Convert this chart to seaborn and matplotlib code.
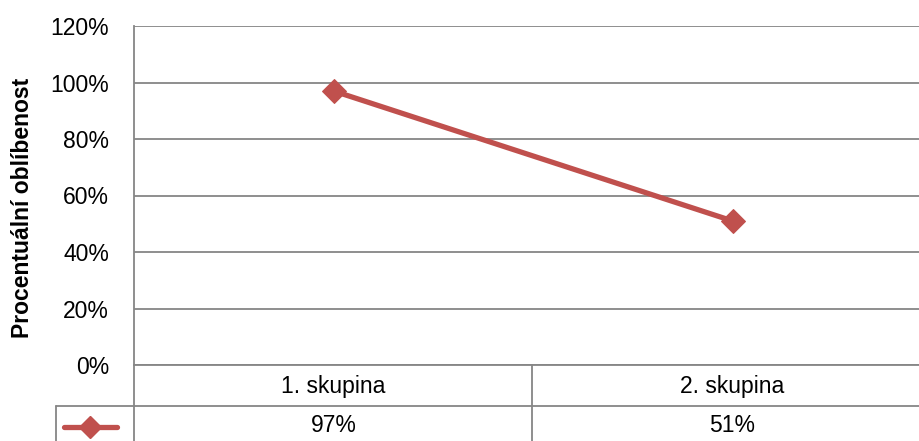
import matplotlib
matplotlib.use("Agg")
import matplotlib.pyplot as plt
import seaborn as sns
import pandas as pd
from matplotlib.lines import Line2D
from matplotlib.transforms import blended_transform_factory

categories = ["1. skupina", "2. skupina"]
values = [0.97, 0.51]
yticks = [0.0, 0.2, 0.4, 0.6, 0.8, 1.0, 1.2]
ylabel = "Procentuální oblíbenost"

sns.set_theme(style="white")
plt.rcParams['font.family'] = ['Liberation Sans', 'DejaVu Sans']

W, H = 919, 441
fig = plt.figure(figsize=(W / 100, H / 100), dpi=100)

def fx(px):
    return px / W

def fy(py):
    return 1 - py / H

left, right, top, bottom = 134, 932, 26, 365
ax = fig.add_axes([fx(left), fy(bottom), fx(right - left), fy(top) - fy(bottom)])

df = pd.DataFrame({"cat": categories, "val": values})
red = "#C0504D"
grid = "#868686"
sns.lineplot(data=df, x="cat", y="val", ax=ax, color=red, linewidth=3.8,
             marker="D", markersize=12, markeredgecolor=red, sort=False)

fs = 16.5
ax.set_xlim(-0.5, 1.5)
ax.set_ylim(0, 1.2)
ax.set_yticks(yticks)
ax.set_yticklabels([f"{int(round(t * 100))}%" for t in yticks], fontsize=fs, color="black")
ax.tick_params(axis="y", length=0, pad=18)
ax.set_xticks([])
ax.set_xlabel("")
ax.set_ylabel("")
ax.yaxis.grid(True, color=grid, linewidth=1.3)
ax.set_axisbelow(True)
for s in ["top", "right", "bottom"]:
    ax.spines[s].set_visible(False)
ax.spines["left"].set_color(grid)
ax.spines["left"].set_linewidth(1.3)

fig.text(fx(23), fy(208), ylabel, rotation=90, ha="center", va="center",
         fontsize=16.5, fontweight="bold", color="black")

# data table lines (figure pixel coords)
lw = 1.3
def hline(y, x0, x1):
    fig.add_artist(Line2D([fx(x0), fx(x1)], [fy(y), fy(y)], color=grid, linewidth=lw))

def vline(x, y0, y1):
    fig.add_artist(Line2D([fx(x), fx(x)], [fy(y0), fy(y1)], color=grid, linewidth=lw))

hline(365, 134, 935)
hline(406, 56, 935)
vline(134, 365, 445)
vline(532, 365, 445)
vline(56, 406, 445)

trans = blended_transform_factory(ax.transData, fig.transFigure)
for i, (c, v) in enumerate(zip(categories, values)):
    ax.text(i, fy(386), c, transform=trans, ha="center", va="center", fontsize=fs, color="black")
    ax.text(i, fy(426), f"{int(round(v * 100))}%", transform=trans, ha="center", va="center",
            fontsize=fs, color="black")

# legend key in table
fig.add_artist(Line2D([fx(64), fx(117)], [fy(427), fy(427)], color=red, linewidth=3.8,
                      solid_capstyle="round"))
fig.add_artist(Line2D([fx(90)], [fy(427)], color=red, marker="D", markersize=11,
                      markeredgecolor=red, linestyle="none"))

fig.savefig("out.png", dpi=100)
